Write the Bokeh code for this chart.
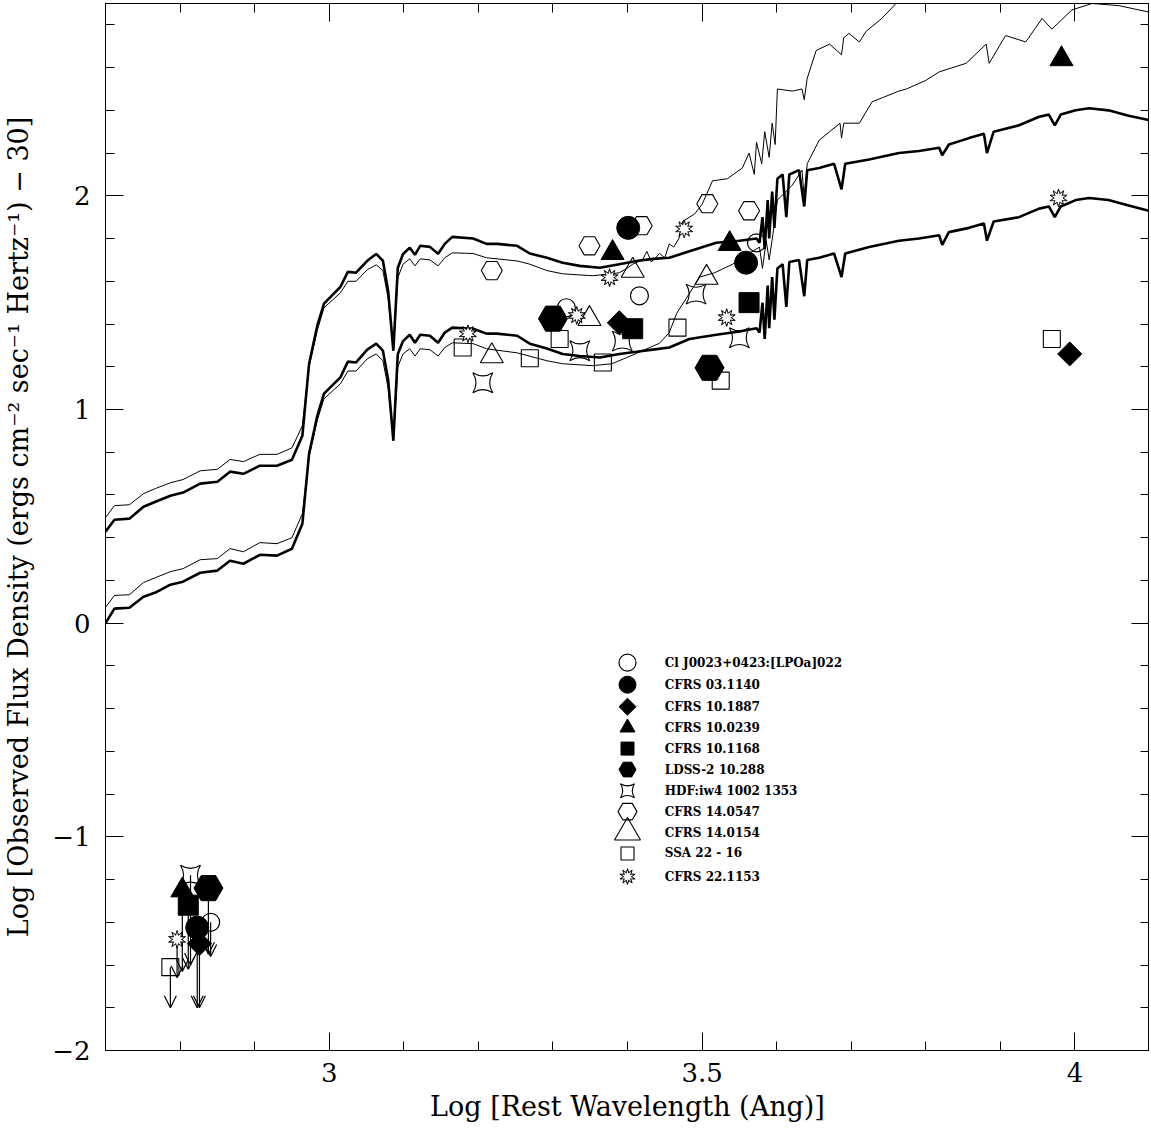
import numpy as np
from bokeh.plotting import figure
from bokeh.models import Range1d, FixedTicker, LinearAxis, Arrow, OpenHead, ColumnDataSource
from bokeh.core.properties import value
from bokeh.embed import file_html
from bokeh.resources import INLINE

# ---------------- model spectra (log wavelength, log flux) ----------------
thick_x = [2.700, 2.712, 2.732, 2.751, 2.767, 2.787, 2.804, 2.827, 2.850, 2.867, 2.885, 2.907, 2.930, 2.950,
           2.964, 2.973, 2.984, 2.993, 3.015, 3.025, 3.036, 3.051, 3.063, 3.072, 3.079, 3.086, 3.092, 3.099,
           3.108, 3.115, 3.122, 3.135, 3.146, 3.155, 3.165, 3.193, 3.211, 3.225, 3.252, 3.269, 3.292, 3.313,
           3.336, 3.363, 3.389, 3.412, 3.434, 3.456, 3.483, 3.519, 3.550, 3.573, 3.577, 3.581, 3.584, 3.588,
           3.590, 3.594, 3.597, 3.601, 3.608, 3.613, 3.617, 3.630, 3.637, 3.641, 3.657, 3.677, 3.687, 3.692,
           3.724, 3.764, 3.791, 3.818, 3.822, 3.831, 3.858, 3.878, 3.882, 3.891, 3.925, 3.952, 3.965, 3.973,
           3.981, 4.001, 4.019, 4.045, 4.072, 4.099]
upper_thick_y = [0.428, 0.484, 0.489, 0.545, 0.568, 0.596, 0.611, 0.653, 0.662, 0.709, 0.699, 0.737, 0.737, 0.765,
                 0.877, 1.214, 1.392, 1.495, 1.574, 1.644, 1.640, 1.696, 1.728, 1.696, 1.556, 1.275, 1.663, 1.728,
                 1.757, 1.724, 1.766, 1.761, 1.729, 1.775, 1.808, 1.800, 1.775, 1.775, 1.766, 1.730, 1.710, 1.687,
                 1.672, 1.663, 1.680, 1.695, 1.705, 1.710, 1.740, 1.780, 1.790, 1.800, 1.780, 1.900, 1.750, 1.980,
                 1.800, 2.020, 1.850, 2.080, 2.100, 1.900, 2.100, 2.120, 1.950, 2.120, 2.130, 2.150, 2.030, 2.150,
                 2.170, 2.200, 2.210, 2.225, 2.190, 2.240, 2.270, 2.290, 2.200, 2.300, 2.330, 2.370, 2.380, 2.330,
                 2.380, 2.400, 2.410, 2.400, 2.375, 2.355]
lower_thick_y = [0.000, 0.068, 0.072, 0.124, 0.143, 0.180, 0.194, 0.236, 0.246, 0.292, 0.278, 0.320, 0.316, 0.348,
                 0.465, 0.793, 0.970, 1.074, 1.150, 1.224, 1.220, 1.280, 1.308, 1.275, 1.140, 0.854, 1.260, 1.320,
                 1.350, 1.312, 1.350, 1.345, 1.312, 1.360, 1.383, 1.378, 1.355, 1.355, 1.345, 1.308, 1.285, 1.260,
                 1.250, 1.243, 1.260, 1.270, 1.280, 1.290, 1.330, 1.350, 1.365, 1.380, 1.360, 1.500, 1.330, 1.580,
                 1.380, 1.620, 1.420, 1.660, 1.680, 1.480, 1.690, 1.700, 1.530, 1.700, 1.710, 1.730, 1.620, 1.730,
                 1.760, 1.790, 1.800, 1.815, 1.770, 1.830, 1.850, 1.870, 1.790, 1.880, 1.900, 1.940, 1.950, 1.900,
                 1.950, 1.980, 1.990, 1.980, 1.955, 1.930]

upper_thin_x = [2.700, 2.712, 2.732, 2.751, 2.767, 2.787, 2.804, 2.827, 2.850, 2.867, 2.885, 2.907, 2.930, 2.950,
                2.964, 2.973, 2.984, 2.993, 3.015, 3.025, 3.036, 3.051, 3.063, 3.072, 3.079, 3.086, 3.092, 3.099,
                3.108, 3.115, 3.122, 3.135, 3.146, 3.155, 3.165, 3.193, 3.211, 3.252, 3.269, 3.292, 3.313, 3.353,
                3.379, 3.389, 3.399, 3.407, 3.420, 3.426, 3.432, 3.443, 3.450, 3.456, 3.462, 3.469, 3.474, 3.490,
                3.500, 3.514, 3.534, 3.554, 3.563, 3.570, 3.573, 3.580, 3.584, 3.590, 3.594, 3.598, 3.601, 3.621,
                3.634, 3.637, 3.641, 3.653, 3.671, 3.687, 3.690, 3.697, 3.711, 3.720, 3.741, 3.760, 3.778]
upper_thin_y = [0.494, 0.550, 0.554, 0.606, 0.630, 0.657, 0.672, 0.713, 0.720, 0.766, 0.756, 0.790, 0.790, 0.820,
                0.924, 1.200, 1.370, 1.476, 1.546, 1.600, 1.600, 1.654, 1.677, 1.650, 1.520, 1.275, 1.617, 1.680,
                1.705, 1.672, 1.705, 1.700, 1.672, 1.710, 1.733, 1.730, 1.710, 1.695, 1.680, 1.650, 1.635, 1.626,
                1.635, 1.640, 1.660, 1.680, 1.700, 1.740, 1.690, 1.730, 1.710, 1.775, 1.760, 1.800, 1.880, 1.915,
                1.960, 2.070, 2.080, 2.130, 2.200, 2.100, 2.250, 2.150, 2.300, 2.180, 2.340, 2.240, 2.500, 2.490,
                2.500, 2.450, 2.550, 2.680, 2.710, 2.660, 2.740, 2.760, 2.720, 2.770, 2.830, 2.900, 2.960]

lower_thin_x = [2.700, 2.712, 2.732, 2.751, 2.767, 2.787, 2.804, 2.827, 2.850, 2.867, 2.885, 2.907, 2.930, 2.950,
                2.964, 2.973, 2.984, 2.993, 3.015, 3.025, 3.036, 3.051, 3.063, 3.072, 3.079, 3.086, 3.092, 3.099,
                3.108, 3.115, 3.122, 3.135, 3.146, 3.155, 3.165, 3.193, 3.211, 3.252, 3.292, 3.313, 3.353, 3.379,
                3.399, 3.426, 3.443, 3.456, 3.466, 3.497, 3.517, 3.541, 3.563, 3.577, 3.581, 3.586, 3.590, 3.595,
                3.601, 3.621, 3.634, 3.637, 3.641, 3.657, 3.685, 3.687, 3.690, 3.711, 3.728, 3.764, 3.774, 3.800,
                3.818, 3.854, 3.881, 3.885, 3.907, 3.934, 3.956, 3.969, 3.996, 4.023, 4.059, 4.099]
lower_thin_y = [0.073, 0.130, 0.133, 0.190, 0.213, 0.241, 0.255, 0.297, 0.302, 0.349, 0.334, 0.377, 0.372, 0.400,
                0.512, 0.780, 0.950, 1.050, 1.120, 1.180, 1.180, 1.237, 1.260, 1.228, 1.100, 0.854, 1.200, 1.260,
                1.284, 1.250, 1.284, 1.280, 1.250, 1.290, 1.312, 1.308, 1.284, 1.265, 1.228, 1.214, 1.205, 1.214,
                1.243, 1.284, 1.310, 1.360, 1.450, 1.620, 1.640, 1.680, 1.730, 1.760, 1.660, 1.790, 1.700, 1.820,
                1.980, 2.050, 2.120, 1.990, 2.150, 2.260, 2.340, 2.270, 2.340, 2.340, 2.440, 2.490, 2.500, 2.540,
                2.580, 2.620, 2.710, 2.620, 2.750, 2.720, 2.830, 2.780, 2.870, 2.900, 2.890, 2.860]

# ---------------- photometry ----------------
names = ["Cl J0023+0423:[LPOa]022", "CFRS 03.1140", "CFRS 10.1887", "CFRS 10.0239", "CFRS 10.1168",
         "LDSS-2 10.288", "HDF:iw4 1002 1353", "CFRS 14.0547", "CFRS 14.0154", "SSA 22 - 16", "CFRS 22.1153"]

cl_x = [3.318, 3.416, 3.573];                 cl_y = [1.476, 1.532, 1.780]
c03_x = [3.401, 3.559];                       c03_y = [1.850, 1.687]
c1887_x = [3.389, 3.993];                     c1887_y = [1.406, 1.260]
c0239_x = [3.380, 3.537, 3.982];              c0239_y = [1.733, 1.775, 2.640]
c1168_x = [3.407, 3.563];                     c1168_y = [1.378, 1.500]
ldss_x = [3.300, 3.510];                      ldss_y = [1.425, 1.195]
hdf_x = [3.206, 3.336, 3.393, 3.492, 3.550];  hdf_y = [1.125, 1.275, 1.320, 1.540, 1.336]
c0547_x = [3.218, 3.349, 3.419, 3.507, 3.563]; c0547_y = [1.650, 1.766, 1.860, 1.963, 1.930]
c0154_x = [3.218, 3.349, 3.407, 3.506];       c0154_y = [1.250, 1.424, 1.650, 1.617]
ssa_x = [3.179, 3.269, 3.309, 3.367, 3.467, 3.525, 3.969]
ssa_y = [1.290, 1.240, 1.330, 1.220, 1.383, 1.135, 1.330]
c22_x = [3.186, 3.332, 3.376, 3.476, 3.533, 3.978]
c22_y = [1.354, 1.440, 1.617, 1.845, 1.430, 1.990]

# upper limits (x, y, arrow tip) in the far UV
cl_lim = (2.841, -1.400, -1.56)
c03_lim = (2.823, -1.425, -1.80)
c1887_lim = (2.826, -1.500, -1.80)
c0239_lim = (2.803, -1.250, -1.63)
c1168_lim = (2.811, -1.320, -1.62)
ldss_lim = (2.838, -1.240, -1.55)
hdf_lim = (2.814, -1.180, -1.60)
ssa_lim = (2.787, -1.610, -1.80)
c22_lim = (2.796, -1.480, -1.66)

# legend rows (data units)
legend_y = [-0.185, -0.288, -0.391, -0.489, -0.587, -0.685, -0.784, -0.882, -0.980, -1.078, -1.186]
legend_sym_x = 3.400
legend_txt_x = 3.450

# axis ticks
x_major = [3.0, 3.5, 4.0]
x_minor = [2.7, 2.8, 2.9, 3.1, 3.2, 3.3, 3.4, 3.6, 3.7, 3.8, 3.9, 4.1]
y_major = [-2, -1, 0, 1, 2]
y_minor = [-1.8, -1.6, -1.4, -1.2, -0.8, -0.6, -0.4, -0.2, 0.2, 0.4, 0.6, 0.8,
           1.2, 1.4, 1.6, 1.8, 2.2, 2.4, 2.6, 2.8]

FONT = "DejaVu Serif"

p = figure(frame_width=1044, frame_height=1047,
           x_range=Range1d(2.7, 4.1), y_range=Range1d(-2.0, 2.9),
           output_backend="svg", toolbar_location=None,
           min_border_left=97, min_border_right=0, min_border_top=3, min_border_bottom=0)
p.grid.visible = False
p.outline_line_color = "black"
p.outline_line_width = 1
p.background_fill_color = "white"


def style_axis(ax, major, minor, labels):
    ax.ticker = FixedTicker(ticks=major, minor_ticks=minor)
    ax.major_tick_in = 18
    ax.major_tick_out = 0
    ax.minor_tick_in = 9
    ax.minor_tick_out = 0
    ax.axis_line_color = "black"
    ax.major_tick_line_color = "black"
    ax.minor_tick_line_color = "black"
    ax.major_tick_line_width = 1
    ax.minor_tick_line_width = 1
    if labels:
        ax.major_label_text_font = FONT
        ax.major_label_text_font_size = "26px"
        ax.major_label_text_color = "black"
        ax.axis_label_text_font = FONT
        ax.axis_label_text_font_size = "27px"
        ax.axis_label_text_font_style = "normal"
        ax.axis_label_text_color = "black"
    else:
        ax.major_label_text_color = None
        ax.major_label_text_font_size = "1px"
        ax.major_label_standoff = 0
        ax.axis_label_standoff = 0


xa = p.xaxis[0]
ya = p.yaxis[0]
style_axis(xa, x_major, x_minor, True)
style_axis(ya, y_major, y_minor, True)
xa.major_label_overrides = {3.0: "3", 3.5: "3.5", 4.0: "4"}
ya.major_label_overrides = {-2: "\u22122", -1: "\u22121", 0: "0", 1: "1", 2: "2"}
xa.axis_label = "Log [Rest Wavelength (Ang)]"
ya.axis_label = "Log [Observed Flux Density (ergs cm\u207b\u00b2 sec\u207b\u00b9 Hertz\u207b\u00b9) \u2212 30]"
xa.major_label_standoff = 12
xa.axis_label_standoff = 6
ya.major_label_standoff = 15
ya.axis_label_standoff = 15

top = LinearAxis()
right = LinearAxis()
style_axis(top, x_major, x_minor, False)
style_axis(right, y_major, y_minor, False)
p.add_layout(top, "above")
p.add_layout(right, "right")

# model curves
p.line(thick_x, upper_thick_y, line_color="black", line_width=2.6)
p.line(thick_x, lower_thick_y, line_color="black", line_width=2.6)
p.line(upper_thin_x, upper_thin_y, line_color="black", line_width=1.0)
p.line(lower_thin_x, lower_thin_y, line_color="black", line_width=1.0)


def draw(kind, xs, ys, size):
    xs = list(xs); ys = list(ys)
    if kind == "ocirc":
        p.scatter(xs, ys, marker="circle", size=size, fill_color=None, line_color="black", line_width=1.2)
    elif kind == "fcirc":
        p.scatter(xs, ys, marker="circle", size=size, fill_color="black", line_color="black")
    elif kind == "fdiam":
        p.scatter(xs, ys, marker="square", angle=np.pi / 4, size=size, fill_color="black", line_color="black")
    elif kind == "ftri":
        p.scatter(xs, ys, marker="triangle", size=size, fill_color="black", line_color="black")
    elif kind == "fsq":
        p.scatter(xs, ys, marker="square", size=size, fill_color="black", line_color="black")
    elif kind == "fhex":
        p.scatter(xs, ys, marker="hex", size=size, fill_color="black", line_color="black")
    elif kind == "o4star":
        p.scatter(xs, ys, marker="square_pin", size=size, fill_color=None, line_color="black", line_width=1.1)
    elif kind == "ohex":
        p.scatter(xs, ys, marker="hex", size=size, fill_color=None, line_color="black", line_width=1.1)
    elif kind == "otri":
        p.scatter(xs, ys, marker="triangle", size=size, fill_color=None, line_color="black", line_width=1.1)
    elif kind == "osq":
        p.scatter(xs, ys, marker="square", size=size, fill_color=None, line_color="black", line_width=1.1)
    elif kind == "burst":
        for ang in (0.0, np.pi / 5):
            p.scatter(xs, ys, marker="star", size=size, angle=ang, fill_color="black", line_color="black",
                      line_width=0.8)
        for ang in (0.0, np.pi / 5):
            p.scatter(xs, ys, marker="star", size=size - 3.6, angle=ang, fill_color="white", line_color=None)


# (kind, xs, ys, limit, plot size, legend size)
series = [
    ("ocirc", cl_x, cl_y, cl_lim, 18, 17),
    ("fcirc", c03_x, c03_y, c03_lim, 23, 17),
    ("fdiam", c1887_x, c1887_y, c1887_lim, 17, 12),
    ("ftri", c0239_x, c0239_y, c0239_lim, 23, 15),
    ("fsq", c1168_x, c1168_y, c1168_lim, 20, 13),
    ("fhex", ldss_x, ldss_y, ldss_lim, 29, 17),
    ("o4star", hdf_x, hdf_y, hdf_lim, 20, 14),
    ("ohex", c0547_x, c0547_y, None, 21, 19),
    ("otri", c0154_x, c0154_y, None, 23, 26),
    ("osq", ssa_x, ssa_y, ssa_lim, 17, 13),
    ("burst", c22_x, c22_y, c22_lim, 18, 16),
]

# upper-limit arrows
lims = [s[3] for s in series if s[3] is not None]
arrow_src = ColumnDataSource(dict(x0=[l[0] for l in lims], y0=[l[1] for l in lims],
                                  x1=[l[0] for l in lims], y1=[l[2] for l in lims]))
p.add_layout(Arrow(end=OpenHead(size=12, line_width=1.2, line_color="black"),
                   x_start="x0", y_start="y0", x_end="x1", y_end="y1",
                   source=arrow_src, line_width=1.2, line_color="black", level="underlay"))

open_kinds = {"ocirc", "o4star", "ohex", "otri", "osq", "burst"}
order = [s for s in series if s[0] in open_kinds] + [s for s in series if s[0] not in open_kinds]
for kind, xs, ys, lim, sz, lsz in order:
    px = list(xs) + ([lim[0]] if lim else [])
    py = list(ys) + ([lim[1]] if lim else [])
    draw(kind, px, py, sz)

# legend
for (kind, xs, ys, lim, sz, lsz), ly in zip(series, legend_y):
    draw(kind, [legend_sym_x], [ly], lsz)
p.text(x=[legend_txt_x] * len(names), y=legend_y, text=names,
       text_font=value(FONT), text_font_size="12px", text_font_style="bold",
       text_baseline="middle", text_align="left", text_color="black")

open("out.html", "w").write(file_html(p, INLINE))
